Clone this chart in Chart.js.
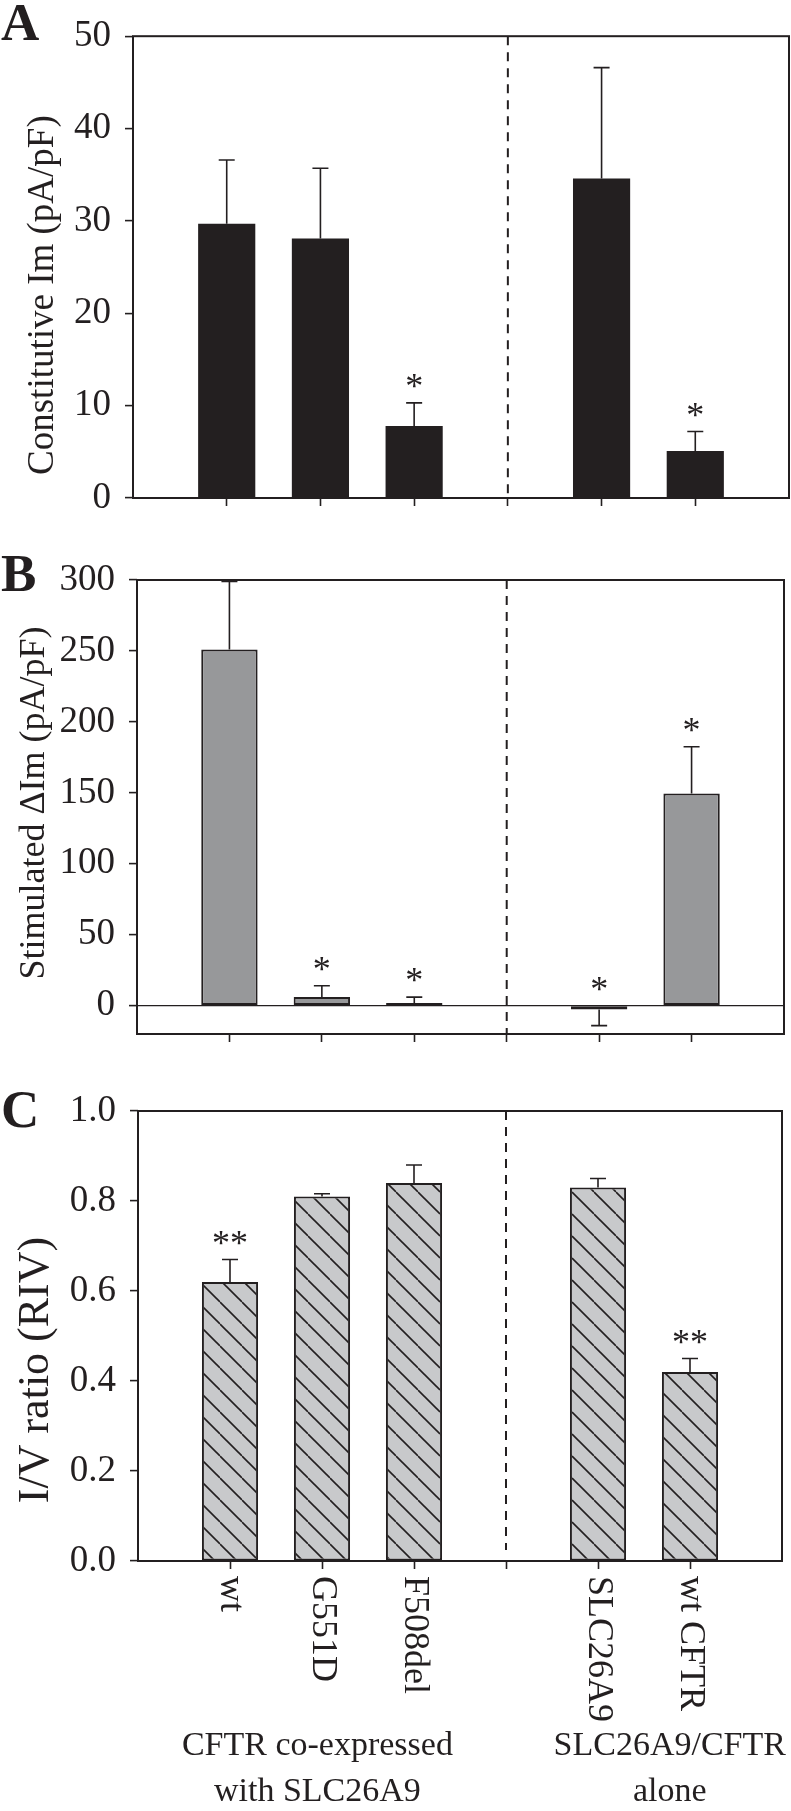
<!DOCTYPE html>
<html>
<head>
<meta charset="utf-8">
<script src="https://cdn.jsdelivr.net/npm/chart.js@4.4.1/dist/chart.umd.min.js"></script>
<style>
    html, body { margin: 0; padding: 0; background: #fff; }
    #figure { position: relative; width: 791px; height: 1811px; }
    #figure canvas { position: absolute; left: 0; }
</style>
</head>
<body>
<div id="figure">
    <canvas id="panelA" width="791" height="540" style="top:0px"></canvas>
    <canvas id="panelB" width="791" height="532" style="top:540px"></canvas>
    <canvas id="panelC" width="791" height="751" style="top:1060px"></canvas>
</div>
<script>
// Categories along x (slot 4 is the gap with the dashed divider)
const categories = ['wt', 'G551D', 'F508del', '', 'SLC26A9', 'wt CFTR'];
const xPositions = [1, 2, 3, 4, 5, 6];
const dividerAt = 4;
const groupLabels = [['CFTR co-expressed', 'with SLC26A9'], ['SLC26A9/CFTR', 'alone']];
const groupCenters = [1.95, 5.78];

// Panel A - constitutive Im
const constitutiveIm = [29.7, 28.1, 7.8, null, 34.6, 5.1];
const constitutiveSem = [6.9, 7.6, 2.5, null, 12.0, 2.1];
const constitutiveSig = ['', '', '*', '', '', '*'];
const constitutiveTicks = [0, 10, 20, 30, 40, 50];

// Panel B - stimulated delta Im
const stimulatedIm = [251, 6, 1.8, null, -2.8, 149.5];
const stimulatedSem = [48, 8, 4.2, null, 11.3, 33];
const stimulatedSig = ['', '*', '*', '', '*', '*'];
const stimulatedTicks = [0, 50, 100, 150, 200, 250, 300];

// Panel C - I/V ratio
const ivRatio = [0.62, 0.81, 0.84, null, 0.83, 0.42];
const ivRatioSem = [0.05, 0.006, 0.04, null, 0.02, 0.03];
const ivRatioSig = ['**', '', '', '', '', '**'];
const ivRatioTicks = [0, 0.2, 0.4, 0.6, 0.8, 1.0];

const INK = '#231f20';
const SERIF = "'Liberation Serif', 'Times New Roman', Times, serif";

function hatchPattern() {
    const size = 22;
    const tile = document.createElement('canvas');
    tile.width = size;
    tile.height = size;
    const g = tile.getContext('2d');
    g.fillStyle = '#c8c9cb';
    g.fillRect(0, 0, size, size);
    g.strokeStyle = INK;
    g.lineWidth = 1.6;
    [-size, 0, size].forEach(function(k) {
        g.beginPath();
        g.moveTo(0, k);
        g.lineTo(size, size + k);
        g.stroke();
    });
    return g.createPattern(tile, 'repeat');
}

// Frame, divider, error bars, asterisks and labels
function decorPlugin(cfg) {
    return {
        id: 'decor' + cfg.letter,
        afterDatasetsDraw: function(chart) {
            const ctx = chart.ctx;
            const area = chart.chartArea;
            const xs = chart.scales.x;
            const ys = chart.scales.y;
            const meta = chart.getDatasetMeta(0);
            ctx.save();
            ctx.strokeStyle = INK;
            ctx.fillStyle = INK;

            // dashed divider
            const dx = xs.getPixelForValue(dividerAt);
            ctx.lineWidth = 2;
            ctx.setLineDash([9, 7]);
            ctx.beginPath();
            ctx.moveTo(dx, area.top);
            ctx.lineTo(dx, area.bottom - cfg.dividerGap);
            ctx.stroke();
            ctx.setLineDash([]);

            // error bars (one-sided, away from zero)
            ctx.lineWidth = 1.6;
            cfg.values.forEach(function(v, i) {
                if (v === null) return;
                const bar = meta.data[i];
                const sign = v >= 0 ? 1 : -1;
                const yEnd = ys.getPixelForValue(v + sign * cfg.sem[i]);
                ctx.beginPath();
                ctx.moveTo(bar.x, bar.y);
                ctx.lineTo(bar.x, yEnd);
                ctx.moveTo(bar.x - 8, yEnd);
                ctx.lineTo(bar.x + 8, yEnd);
                ctx.stroke();

                if (cfg.sig[i]) {
                    const anchor = v >= 0 ? v + cfg.sem[i] : 0;
                    ctx.font = '36px ' + SERIF;
                    ctx.textAlign = 'center';
                    ctx.textBaseline = 'alphabetic';
                    ctx.fillText(cfg.sig[i], bar.x, ys.getPixelForValue(anchor) - 5);
                }
            });

            // box frame
            ctx.lineWidth = 2;
            ctx.strokeRect(area.left, area.top, area.right - area.left, area.bottom - area.top);

            // panel letter
            ctx.font = 'bold 53px ' + SERIF;
            ctx.textAlign = 'left';
            ctx.textBaseline = 'alphabetic';
            ctx.fillText(cfg.letter, 1, area.top + cfg.letterDy);

            // y axis title
            ctx.save();
            ctx.font = cfg.titleSize + 'px ' + SERIF;
            ctx.textAlign = 'center';
            ctx.textBaseline = 'middle';
            ctx.translate(cfg.titleX, (area.top + area.bottom) / 2 + cfg.titleDy);
            ctx.rotate(-Math.PI / 2);
            ctx.fillText(cfg.yTitle, 0, 0);
            ctx.restore();

            if (cfg.categoryLabels) {
                ctx.font = '36px ' + SERIF;
                ctx.textBaseline = 'middle';
                ctx.textAlign = 'left';
                categories.forEach(function(label, i) {
                    if (!label) return;
                    ctx.save();
                    ctx.translate(xs.getPixelForValue(xPositions[i]), area.bottom + 15);
                    ctx.rotate(Math.PI / 2);
                    ctx.fillText(label, 0, 0);
                    ctx.restore();
                });
                ctx.font = '34px ' + SERIF;
                ctx.textAlign = 'center';
                groupLabels.forEach(function(lines, g) {
                    const gx = xs.getPixelForValue(groupCenters[g]);
                    lines.forEach(function(line, k) {
                        ctx.fillText(line, gx, area.bottom + 185 + k * 46);
                    });
                });
            }
            ctx.restore();
        }
    };
}

function makePanel(canvasId, cfg) {
    const ctx = document.getElementById(canvasId).getContext('2d');
    return new Chart(ctx, {
        type: 'bar',
        data: {
            datasets: [{
                data: xPositions.map(function(x, i) { return { x: x, y: cfg.values[i] }; }),
                backgroundColor: cfg.fill,
                borderColor: INK,
                borderWidth: cfg.borderWidth,
                borderSkipped: false,
                barPercentage: 0.61,
                categoryPercentage: 1
            }]
        },
        options: {
            responsive: false,
            animation: false,
            events: [],
            layout: { padding: { top: cfg.padTop, right: cfg.padRight, left: 0, bottom: 0 } },
            plugins: {
                legend: { display: false },
                tooltip: { enabled: false }
            },
            scales: {
                x: {
                    type: 'linear',
                    min: 0,
                    max: 7,
                    offset: false,
                    afterBuildTicks: function(s) { s.ticks = xPositions.map(function(v) { return { value: v }; }); },
                    afterFit: function(s) { s.height = cfg.xHeight; },
                    ticks: { display: false },
                    grid: { drawOnChartArea: false, offset: false, tickLength: 8, tickColor: INK, tickWidth: 1.6 },
                    border: { display: false }
                },
                y: {
                    min: cfg.yMin,
                    max: cfg.yMax,
                    afterBuildTicks: function(s) { s.ticks = cfg.yTicks.map(function(v) { return { value: v }; }); },
                    afterFit: function(s) { s.width = cfg.yWidth; },
                    ticks: {
                        padding: 14,
                        color: INK,
                        font: { family: SERIF, size: 37 },
                        callback: function(v) { return v.toFixed(cfg.decimals); }
                    },
                    grid: {
                        drawOnChartArea: cfg.zeroLine,
                        color: function(c) { return c.tick && c.tick.value === 0 ? INK : 'rgba(0,0,0,0)'; },
                        lineWidth: 1.2,
                        tickLength: 8,
                        tickColor: INK,
                        tickWidth: 1.6
                    },
                    border: { display: false }
                }
            }
        },
        plugins: [decorPlugin(cfg)]
    });
}

document.addEventListener('DOMContentLoaded', function() {
    makePanel('panelA', {
        letter: 'A', letterDy: 4, values: constitutiveIm, sem: constitutiveSem, sig: constitutiveSig,
        yMin: 0, yMax: 50, yTicks: constitutiveTicks, decimals: 0,
        yTitle: 'Constitutive Im (pA/pF)', titleSize: 37, titleX: 43, titleDy: 28,
        fill: INK, borderWidth: 0, zeroLine: false,
        yWidth: 133, xHeight: 42, padTop: 36, padRight: 2, dividerGap: 0,
        categoryLabels: false
    });

    makePanel('panelB', {
        letter: 'B', letterDy: 11, values: stimulatedIm, sem: stimulatedSem, sig: stimulatedSig,
        yMin: -20, yMax: 300, yTicks: stimulatedTicks, decimals: 0,
        yTitle: 'Stimulated \u0394Im (pA/pF)', titleSize: 36, titleX: 35, titleDy: -4,
        fill: '#97989a', borderWidth: 2, zeroLine: true,
        yWidth: 137, xHeight: 38, padTop: 40, padRight: 7, dividerGap: 0,
        categoryLabels: false
    });

    makePanel('panelC', {
        letter: 'C', letterDy: 16, values: ivRatio, sem: ivRatioSem, sig: ivRatioSig,
        yMin: 0, yMax: 1.0, yTicks: ivRatioTicks, decimals: 1,
        yTitle: 'I/V ratio (RIV)', titleSize: 44, titleX: 36, titleDy: 34,
        fill: hatchPattern(), borderWidth: 2, zeroLine: false,
        yWidth: 138, xHeight: 250, padTop: 51, padRight: 9, dividerGap: 11,
        categoryLabels: true
    });
});
</script>
</body>
</html>
